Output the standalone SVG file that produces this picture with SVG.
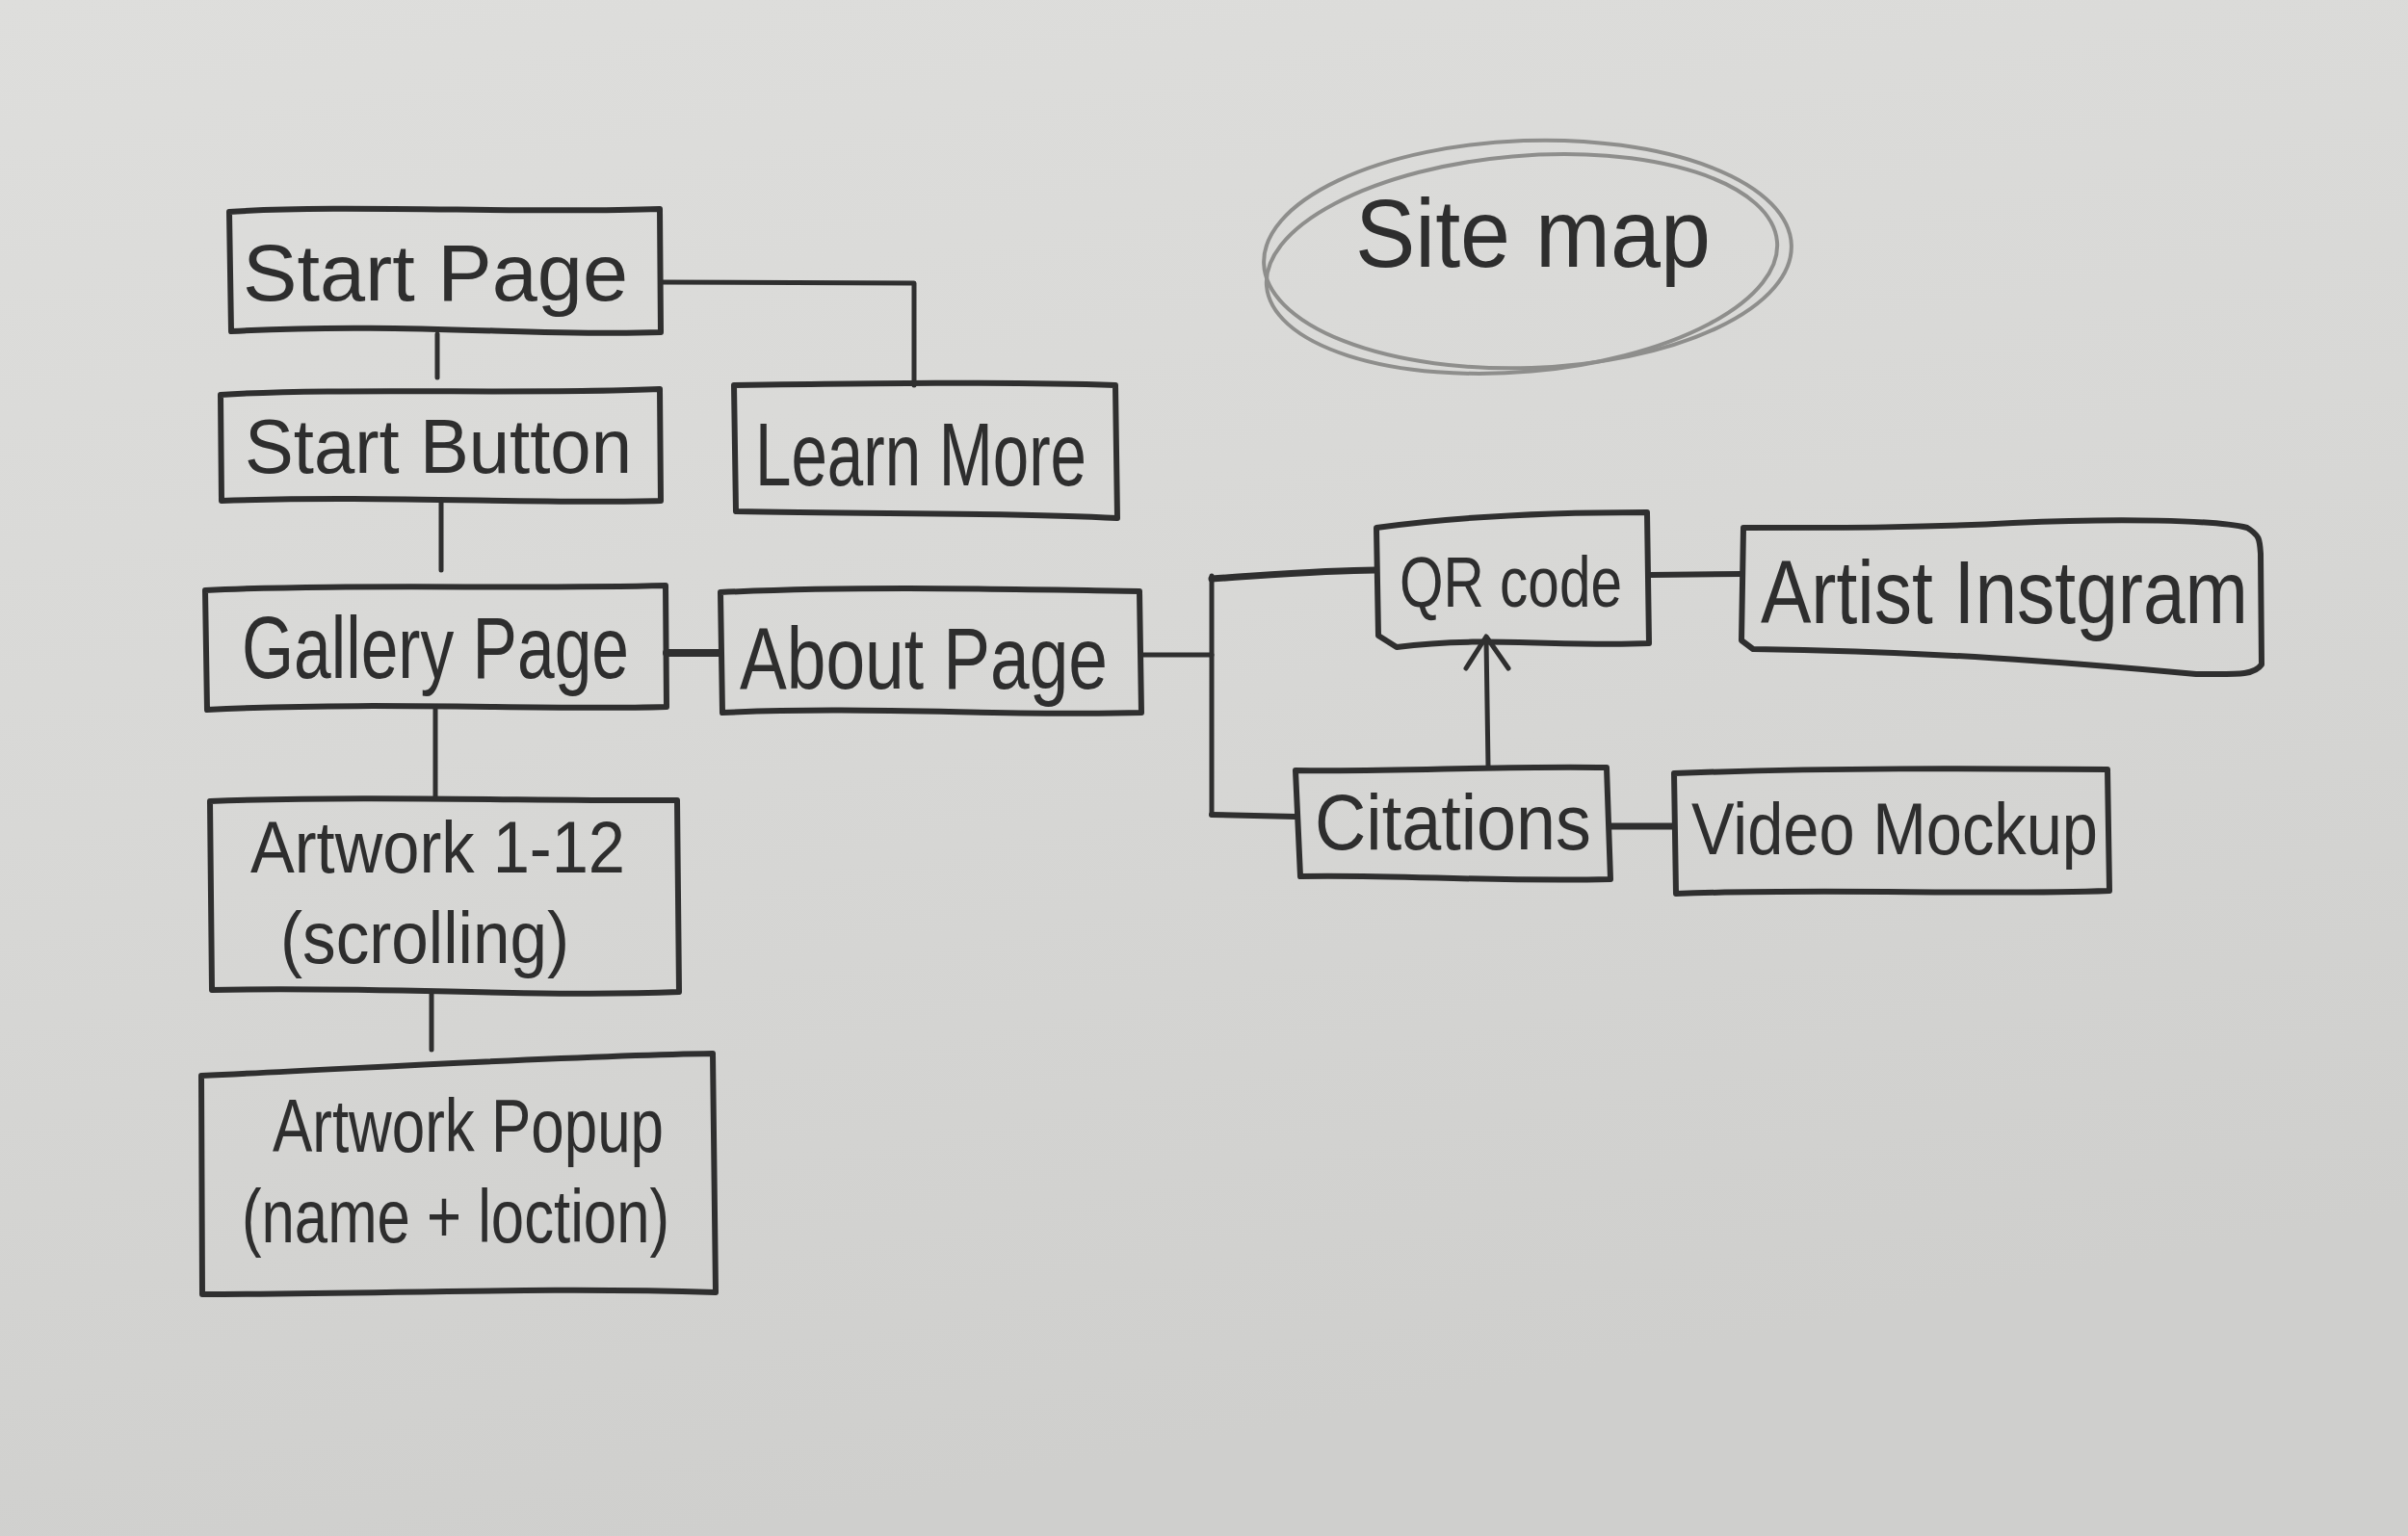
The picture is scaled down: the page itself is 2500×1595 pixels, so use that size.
<svg xmlns="http://www.w3.org/2000/svg" width="2500" height="1595" viewBox="0 0 2500 1595">
<defs>
<linearGradient id="paper" x1="0" y1="0" x2="0.3" y2="1">
<stop offset="0" stop-color="#dededc"/>
<stop offset="0.5" stop-color="#d8d8d6"/>
<stop offset="1" stop-color="#cfcfcd"/>
</linearGradient>
<style>
.box{fill:none;stroke:#2f2f2f;stroke-width:6;stroke-linejoin:round;stroke-linecap:round}
.wire{fill:none;stroke:#2f2f2f;stroke-width:5;stroke-linejoin:round;stroke-linecap:round}
.lbl{font-family:"Liberation Sans","DejaVu Sans",sans-serif;fill:#2e2e2e;font-weight:normal}
.pencil{fill:none;stroke:#8e8e8c;stroke-width:4}
</style>
</defs>
<rect x="0" y="0" width="2500" height="1595" fill="url(#paper)"/>

<g id="site-map-title">
<ellipse class="pencil" cx="1586" cy="264" rx="274" ry="118" transform="rotate(-2 1586 264)"/>
<ellipse class="pencil" cx="1580" cy="274" rx="266" ry="112" transform="rotate(-5 1580 274)"/>
<text class="lbl" x="1407" y="277" font-size="100" textLength="369" lengthAdjust="spacingAndGlyphs">Site map</text>
</g>

<g id="connectors">
<path class="wire" d="M454,347 L454,392"/>
<path class="wire" d="M686,293 L949,294 L949,400"/>
<path class="wire" d="M458,522 L458,592"/>
<path class="wire" d="M452,737 L452,829"/>
<path class="wire" d="M448,1032 L448,1090"/>
<path class="wire" d="M692,678 L747,678" style="stroke-width:8"/>
<path class="wire" d="M1186,680 L1258,680"/>
<path class="wire" d="M1258,598 L1258,846"/>
<path class="wire" d="M1258,601 C1320,597 1380,592 1428,592" style="stroke-width:7"/>
<path class="wire" d="M1258,846 L1345,848" style="stroke-width:6"/>
<path class="wire" d="M1713,597 L1808,596" style="stroke-width:6"/>
<path class="wire" d="M1545,796 L1543,664"/>
<path class="wire" d="M1522,694 L1543,661 L1566,694"/>
<path class="wire" d="M1673,858 L1737,858" style="stroke-width:7"/>
</g>

<g id="start-page">
<path class="box" d="M238,220 C350,212 550,222 685,217 L686,345 C560,350 420,334 240,344 Z"/>
<text class="lbl" x="252" y="312" font-size="84" textLength="400" lengthAdjust="spacingAndGlyphs">Start Page</text>
</g>

<g id="start-button">
<path class="box" d="M229,410 C350,402 550,410 685,404 L686,520 C560,524 400,514 230,520 Z"/>
<text class="lbl" x="254" y="491" font-size="80" textLength="402" lengthAdjust="spacingAndGlyphs">Start Button</text>
</g>

<g id="learn-more">
<path class="box" d="M762,400 C900,398 1050,396 1158,400 L1160,538 C1050,532 900,534 764,531 Z"/>
<text class="lbl" x="784" y="504" font-size="92" textLength="344" lengthAdjust="spacingAndGlyphs">Learn More</text>
</g>

<g id="gallery-page">
<path class="box" d="M213,613 C350,606 550,612 691,608 L692,734 C560,738 400,728 215,737 Z"/>
<text class="lbl" x="251" y="704" font-size="90" textLength="402" lengthAdjust="spacingAndGlyphs">Gallery Page</text>
</g>

<g id="about-page">
<path class="box" d="M748,615 C900,608 1050,612 1183,614 L1185,740 C1050,744 900,733 750,740 Z"/>
<text class="lbl" x="768" y="715" font-size="90" textLength="382" lengthAdjust="spacingAndGlyphs">About Page</text>
</g>

<g id="artwork-list">
<path class="box" d="M218,832 C380,826 560,832 703,831 L705,1030 C560,1036 400,1024 220,1028 Z"/>
<text class="lbl" x="260" y="906" font-size="76" textLength="389" lengthAdjust="spacingAndGlyphs">Artwork 1-12</text>
<text class="lbl" x="291" y="1000" font-size="76" textLength="300" lengthAdjust="spacingAndGlyphs">(scrolling)</text>
</g>

<g id="artwork-popup">
<path class="box" d="M209,1117 C400,1108 600,1096 740,1094 L743,1342 C560,1336 400,1344 210,1344 Z"/>
<text class="lbl" x="283" y="1196" font-size="78" textLength="406" lengthAdjust="spacingAndGlyphs">Artwork Popup</text>
<text class="lbl" x="251" y="1290" font-size="78" textLength="444" lengthAdjust="spacingAndGlyphs">(name + loction)</text>
</g>

<g id="qr-code">
<path class="box" d="M1429,548 C1500,538 1600,532 1710,532 L1712,668 C1620,672 1540,660 1450,672 L1431,660 Z"/>
<text class="lbl" x="1453" y="630" font-size="74" textLength="231" lengthAdjust="spacingAndGlyphs">QR code</text>
</g>

<g id="artist-instagram">
<path class="box" d="M1810,548 C1920,548 2000,548 2090,543 C2200,538 2300,540 2333,548 C2346,556 2346,560 2347,575 L2348,690 C2340,702 2320,700 2280,700 C2150,688 2000,676 1820,674 L1808,665 Z"/>
<text class="lbl" x="1828" y="647" font-size="92" textLength="506" lengthAdjust="spacingAndGlyphs">Artist Instgram</text>
</g>

<g id="citations">
<path class="box" d="M1345,800 C1450,802 1550,795 1668,797 L1672,913 C1550,916 1450,908 1350,910 Z"/>
<text class="lbl" x="1365" y="882" font-size="82" textLength="287" lengthAdjust="spacingAndGlyphs">Citations</text>
</g>

<g id="video-mockup">
<path class="box" d="M1738,803 C1900,797 2050,798 2188,799 L2190,925 C2050,930 1900,922 1740,928 Z"/>
<text class="lbl" x="1756" y="887" font-size="76" textLength="422" lengthAdjust="spacingAndGlyphs">Video Mockup</text>
</g>
</svg>
